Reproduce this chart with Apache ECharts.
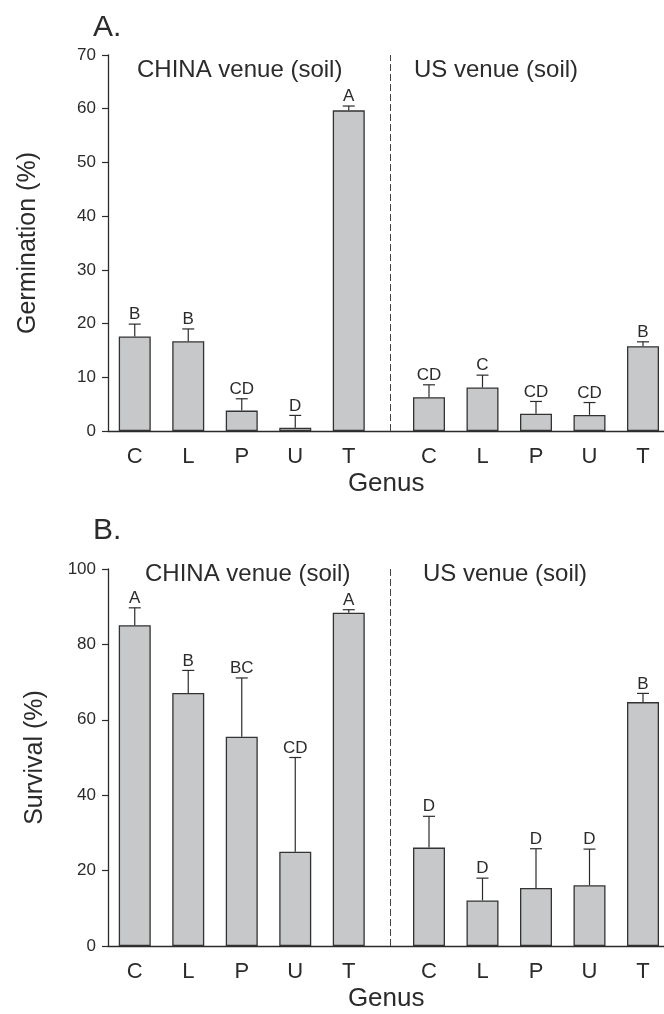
<!DOCTYPE html>
<html>
<head>
<meta charset="utf-8">
<script src="https://cdn.jsdelivr.net/npm/echarts@6/dist/echarts.min.js"></script>
<style>
html,body{margin:0;padding:0;background:#fff;}
#chart{width:664px;height:1014px;}
</style>
</head>
<body>
<div id="chart"></div>
<script>
var genera=['C','L','P','U','T'];

// A. germination (%)
var germChina=[17.6, 16.7, 3.8, 0.6, 59.7];
var germChinaSE=[2.3, 2.3, 2.2, 2.3, 0.8];
var germChinaLetters=['B','B','CD','D','A'];
var germUS=[6.3, 8.1, 3.2, 3.0, 15.8];
var germUSSE=[2.3, 2.3, 2.3, 2.3, 0.8];
var germUSLetters=['CD','C','CD','CD','B'];

// B. survival (%)
var survChina=[85.1, 67.1, 55.5, 25.0, 88.4];
var survChinaSE=[4.6, 6.0, 15.6, 25.0, 0.8];
var survChinaLetters=['A','B','BC','CD','A'];
var survUS=[26.1, 12.1, 15.4, 16.1, 64.7];
var survUSSE=[8.3, 5.9, 10.4, 9.6, 2.3];
var survUSLetters=['D','D','D','D','B'];

var germTicks=[0,70,10];
var survTicks=[0,100,20];

// x slots: china genera on 1,3,5..; us genera on 12,14,..
var posChina=genera.map(function(g,i){return 1+2*i;});
var posUS=genera.map(function(g,i){return 12+2*i;});
var slotLabel={};
genera.forEach(function(g,i){slotLabel[posChina[i]]=g;slotLabel[posUS[i]]=g;});

var FONT='Liberation Sans, Arial, sans-serif';
var INK='#2b2b2b';

var makeBars=function(pos,vals){
	return vals.map(function(v,i){return [pos[i],v];});
};
var makeErr=function(pos,vals,se,letters){
	return vals.map(function(v,i){return [pos[i],v,v+se[i],letters[i]];});
};

var errRender=function(params,api){
	var x=api.value(0);
	var p0=api.coord([x,api.value(1)]);
	var p1=api.coord([x,api.value(2)]);
	var ls={stroke:INK,lineWidth:1.2};
	return {
		type:'group',
		children:[
			{type:'line',shape:{x1:p0[0],y1:p0[1],x2:p1[0],y2:p1[1]},style:ls},
			{type:'line',shape:{x1:p1[0]-6,y1:p1[1],x2:p1[0]+6,y2:p1[1]},style:ls},
			{type:'text',style:{x:p1[0],y:p1[1]-1,text:api.value(3),align:'center',verticalAlign:'bottom',
				font:'17px '+FONT,fill:INK}}
		]
	};
};

var xAxisOf=function(idx){
	return {
		type:'value',gridIndex:idx,min:0,max:20.8,interval:1,
		name:'Genus',nameLocation:'middle',nameGap:40,
		nameTextStyle:{fontSize:26,fontFamily:FONT,color:INK},
		axisLine:{show:true,onZero:false,lineStyle:{color:INK,width:1.3}},
		axisTick:{show:false},
		splitLine:{show:false},
		axisLabel:{margin:15,fontSize:22,fontFamily:FONT,color:INK,showMinLabel:true,showMaxLabel:true,
			formatter:function(v){return slotLabel[v]||'';}}
	};
};
var yAxisOf=function(idx,ticks,name,gap){
	return {
		type:'value',gridIndex:idx,min:ticks[0],max:ticks[1],interval:ticks[2],
		name:name,nameLocation:'middle',nameGap:gap,
		nameTextStyle:{fontSize:25,fontFamily:FONT,color:INK},
		axisLine:{show:true,lineStyle:{color:INK,width:1.3}},
		axisTick:{show:true,length:6,lineStyle:{color:INK,width:1.2}},
		splitLine:{show:false},
		axisLabel:{margin:12,fontSize:17,fontFamily:FONT,color:INK}
	};
};

var barStyle={color:'#c7c8ca',borderColor:'#333',borderWidth:1.3};
var divider={silent:true,symbol:'none',label:{show:false},
	lineStyle:{color:'#444',width:1,type:[7,3]},data:[{xAxis:10.57}]};

var barSeries=function(idx,data){
	return {type:'bar',xAxisIndex:idx,yAxisIndex:idx,barWidth:32,data:data,itemStyle:barStyle,silent:true,
		markLine:divider};
};
var errSeries=function(idx,data){
	return {type:'custom',xAxisIndex:idx,yAxisIndex:idx,renderItem:errRender,data:data,silent:true,z:5};
};

var textEl=function(x,y,txt,size){
	return {type:'text',left:x,top:y,style:{text:txt,font:size+'px '+FONT,fill:INK}};
};

var chart=echarts.init(document.getElementById('chart'),null,{renderer:'canvas'});
var option={
	animation:false,
	backgroundColor:'#fff',
	grid:[
		{left:108,top:55,width:556.4,height:376,outerBoundsMode:'none'},
		{left:108,top:569,width:556.4,height:377,outerBoundsMode:'none'}
	],
	xAxis:[xAxisOf(0),xAxisOf(1)],
	yAxis:[yAxisOf(0,germTicks,'Germination (%)',67),yAxisOf(1,survTicks,'Survival (%)',60)],
	graphic:[
		textEl(93,13,'A.',30),
		textEl(137,58,'CHINA venue (soil)',24),
		textEl(414,58,'US venue (soil)',24),
		textEl(93,516,'B.',30),
		textEl(145,562,'CHINA venue (soil)',24),
		textEl(423,562,'US venue (soil)',24)
	],
	series:[
		barSeries(0,makeBars(posChina.concat(posUS),germChina.concat(germUS))),
		errSeries(0,makeErr(posChina,germChina,germChinaSE,germChinaLetters)),
		errSeries(0,makeErr(posUS,germUS,germUSSE,germUSLetters)),
		barSeries(1,makeBars(posChina.concat(posUS),survChina.concat(survUS))),
		errSeries(1,makeErr(posChina,survChina,survChinaSE,survChinaLetters)),
		errSeries(1,makeErr(posUS,survUS,survUSSE,survUSLetters))
	]
};
chart.setOption(option);
</script>
</body>
</html>
